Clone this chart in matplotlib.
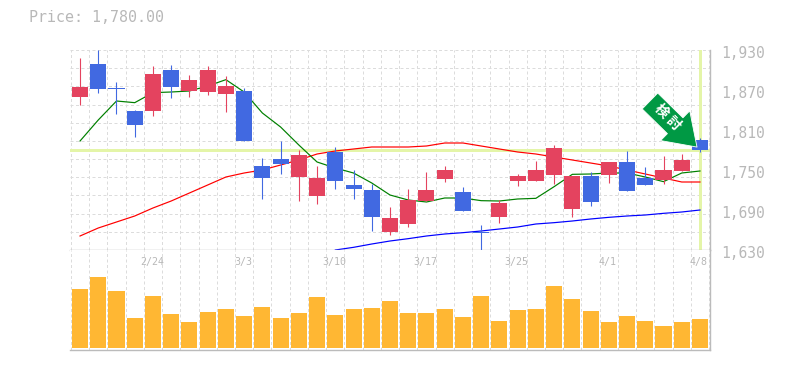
import numpy as np
import matplotlib
matplotlib.use("Agg")
import matplotlib.pyplot as plt

plt.rcParams["font.family"] = ["DejaVu Sans Mono", "Noto Sans CJK JP"]

# daily candles, index 0 = first session
OPENS = [1859.5, 1909, 1873, 1838.5, 1838.5, 1900, 1868.5, 1867, 1864, 1868.5, 1756, 1766.5,
         1739.5, 1711, 1777, 1727.5, 1720, 1657, 1669, 1703.5, 1736.5, 1717, 1657, 1679.5,
         1733.5, 1733.5, 1742.5, 1691.5, 1741, 1742.5, 1762, 1738, 1735, 1748.5, 1795]
CLOSES = [1874.5, 1871.5, 1871.5, 1817.5, 1894, 1874.5, 1885, 1900, 1876, 1793.5, 1738, 1759,
          1772.5, 1738, 1733.5, 1721.5, 1679.5, 1678, 1705, 1720, 1750, 1688.5, 1655.5, 1700.5,
          1741, 1750, 1783, 1741, 1702, 1762, 1718.5, 1727.5, 1750, 1765, 1780]
HIGHS = [1918, 1930, 1882, 1840, 1906, 1907.5, 1892.5, 1906, 1891, 1873, 1768, 1793.5,
         1780, 1756, 1784.5, 1750, 1729, 1694.5, 1721.5, 1747, 1756, 1724.5, 1667.5, 1705,
         1744, 1763.5, 1787.5, 1741, 1747, 1762, 1778.5, 1754.5, 1771, 1774, 1798]
LOWS = [1847.5, 1865.5, 1834, 1799.5, 1831, 1858, 1859.5, 1862.5, 1837, 1793.5, 1706.5, 1744,
        1703.5, 1699, 1721.5, 1706.5, 1658.5, 1652.5, 1664.5, 1703.5, 1732, 1688.5, 1630, 1670.5,
        1726, 1733.5, 1729, 1679.5, 1696, 1730.5, 1718.5, 1727.5, 1729, 1748.5, 1777]
IS_UP = [1, 0, 0, 0, 1, 0, 1, 1, 1, 0, 0, 0, 1, 1, 0, 0, 0, 1, 1, 1, 1, 0, 0, 1,
         1, 1, 1, 1, 0, 1, 0, 0, 1, 1, 0]

MA_SHORT = [1793.5, 1825, 1853.5, 1851, 1866, 1867, 1868.5, 1876, 1885.5, 1867, 1835.5, 1814.5,
            1787.5, 1762, 1753, 1745.5, 1730.5, 1712.5, 1705, 1702, 1708, 1708, 1704, 1703.5,
            1706.5, 1707.5, 1725, 1743.5, 1744, 1745.5, 1745.5, 1739.5, 1732.5, 1745.5, 1748.5]
MA_MID = [1651, 1663, 1672, 1681, 1693, 1703.5, 1715.5, 1727.5, 1739.5, 1745.5, 1750, 1757.5,
          1765, 1774, 1778.5, 1781.5, 1784.5, 1784.5, 1784.5, 1786, 1790.5, 1790.5, 1786, 1781.5,
          1777, 1774, 1769.5, 1765, 1760.5, 1756, 1750, 1744, 1738, 1732, 1732]
MA_LONG = [np.nan] * 14 + [1630, 1634, 1639, 1643.5, 1647, 1651, 1654, 1656, 1658.5, 1661.5,
                           1664.5, 1669, 1671, 1673.5, 1676.5, 1679, 1681, 1682.5, 1685, 1687, 1690]

VOLUMES = [59, 71, 57, 30, 52, 34, 26, 36, 39, 32, 41, 30, 35, 51, 33, 39, 40, 47,
           35, 35, 39, 31, 52, 27, 38, 39, 62, 49, 37, 26, 32, 27, 22, 26, 29]

PRICE_TICKS = [1930, 1870, 1810, 1750, 1690, 1630]
DATE_POS = [4, 9, 14, 19, 24, 29, 34]
DATE_LABELS = ["2/24", "3/3", "3/10", "3/17", "3/25", "4/1", "4/8"]
LAST_PRICE = 1780

RED = "#e4435f"
BLUE = "#4169e1"
ORANGE = "#ffb733"
HILITE = "#e4f5a8"
GRID = "#dcdcdc"
FRAME = "#bbbbbb"
TEXT = "#b8b8b8"
PX = 0.72  # one pixel in points at dpi 100

x = np.arange(len(OPENS))
opens = np.array(OPENS)
closes = np.array(CLOSES)
colors = [RED if up else BLUE for up in IS_UP]

fig = plt.figure(figsize=(7.85, 3.70), dpi=100)
ax = fig.add_axes([70 / 785, 120 / 370, 640 / 785, 200 / 370])
vol = fig.add_axes([70 / 785, 20 / 370, 640 / 785, 100 / 370])

for a in (ax, vol):
    a.set_xlim(-0.55, 34.55)
    a.set_xticks(np.arange(-0.5, 35), minor=True)
    a.set_xticks([])
    a.grid(True, which="minor", axis="x", color=GRID, lw=PX, ls=(0, (3, 2.5)))
    a.set_axisbelow(True)
    a.tick_params(which="both", length=0, labelleft=False, labelbottom=False)
    a.spines["left"].set_visible(False)
    a.spines["top"].set_visible(False)
    a.spines["right"].set_color(FRAME)
    a.spines["bottom"].set_color(FRAME)
    a.spines["right"].set_linewidth(1.0)
    a.spines["bottom"].set_linewidth(1.0)

# price panel
ax.set_ylim(1630, 1930)
ax.set_yticks(np.linspace(1630, 1930, 12), minor=True)
ax.set_yticks([])
ax.grid(True, which="minor", axis="y", color=GRID, lw=PX, ls=(0, (3, 2.5)))

ax.axhline(LAST_PRICE, color=HILITE, lw=3 * PX, zorder=1)
ax.axvline(x[-1], ymin=0.005, ymax=0.995, color=HILITE, lw=3 * PX, zorder=1)

ax.plot(x, MA_LONG, color="#0000ff", lw=1.2 * PX, zorder=2)
ax.plot(x, MA_MID, color="#ff0000", lw=1.2 * PX, zorder=2)
ax.plot(x, MA_SHORT, color="#008000", lw=1.2 * PX, zorder=2)

ax.vlines(x, LOWS, HIGHS, colors=colors, lw=PX * 1.1, zorder=3)
bottoms = np.minimum(opens, closes)
heights = np.maximum(np.abs(closes - opens), 1.5)
ax.bar(x, heights, 0.88, bottom=bottoms, color=colors, zorder=4, antialiased=False)

# green signal arrow sitting on the last candle
ax.annotate("", xy=(x[-1], LAST_PRICE), xycoords="data",
            xytext=(-50, 49), textcoords="offset pixels",
            arrowprops=dict(arrowstyle="simple,head_length=2.2,head_width=3.0,tail_width=1.6",
                            mutation_scale=10, shrinkA=0, shrinkB=3,
                            fc="#009944", ec="white", lw=0.6),
            zorder=6)
for ch, off in zip("検討", [(-39, 39), (-26.5, 26.5)]):
    ax.annotate(ch, xy=(x[-1], LAST_PRICE), xycoords="data", xytext=off,
                textcoords="offset pixels", rotation=-45, rotation_mode="anchor",
                ha="center", va="center", color="white", fontsize=10, fontweight="bold",
                family="Noto Sans CJK JP", zorder=7)

for price in PRICE_TICKS:
    ax.annotate(f"{price:,}", xy=(1, price), xycoords=("axes fraction", "data"),
                xytext=(11, -3), textcoords="offset pixels", va="center", ha="left",
                color=TEXT, fontsize=10.5, annotation_clip=False)

# volume panel
vol.set_ylim(-2, 98)
vol.set_yticks([])
vol.bar(x, VOLUMES, 0.88, color=ORANGE, zorder=3, antialiased=False)
for pos, label in zip(DATE_POS, DATE_LABELS):
    vol.annotate(label, xy=(pos, 1), xycoords=("data", "axes fraction"),
                 xytext=(-1, -12), textcoords="offset pixels", va="center", ha="center",
                 color=TEXT, fontsize=7.2)

fig.text(29 / 785, 1 - 18 / 370, "Price: 1,780.00", color=TEXT, fontsize=10.8, va="center", ha="left")

fig.savefig("out.png", dpi=100)
